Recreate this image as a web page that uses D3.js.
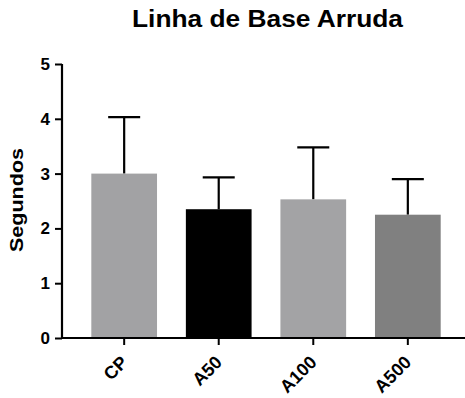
<!DOCTYPE html>
<html>
<head>
<meta charset="utf-8">
<script src="https://cdn.jsdelivr.net/npm/d3@7"></script>
<style>
  body { margin: 0; background: #fff; }
  text { font-family: "Liberation Sans", Arial, sans-serif; font-weight: bold; }
</style>
</head>
<body>
<div id="chart"></div>
<script>
var groups = ["CP", "A50", "A100", "A500"]
var means = [3.0, 2.35, 2.53, 2.25]
var upperErr = [4.03, 2.93, 3.48, 2.90]
var colors = ["#a2a2a4", "#000000", "#a3a3a5", "#808080"]
var yTicks = [0, 1, 2, 3, 4, 5]

var width = 465, height = 398
var margin = {top: 64, left: 62}
var plotBottom = 338

var svg = d3.select("#chart")
    .append("svg")
    .attr("width", width)
    .attr("height", height)

var x = d3.scaleBand()
    .domain(groups)
    .range([62, 470])
    .paddingInner(0.305)
    .paddingOuter(0.31)

var y = d3.scaleLinear()
    .domain([0, 5])
    .range([plotBottom, margin.top])

// error bars drawn first so the bar covers the lower half
svg.selectAll(".err")
    .data(groups)
    .enter().append("line")
    .attr("x1", function(d) { return x(d) + x.bandwidth() / 2 })
    .attr("x2", function(d) { return x(d) + x.bandwidth() / 2 })
    .attr("y1", function(d, i) { return y(means[i]) })
    .attr("y2", function(d, i) { return y(upperErr[i]) })
    .attr("stroke", "#000")
    .attr("stroke-width", 2.2)

svg.selectAll(".cap")
    .data(groups)
    .enter().append("line")
    .attr("x1", function(d) { return x(d) + x.bandwidth() / 2 - 16 })
    .attr("x2", function(d) { return x(d) + x.bandwidth() / 2 + 16 })
    .attr("y1", function(d, i) { return y(upperErr[i]) })
    .attr("y2", function(d, i) { return y(upperErr[i]) })
    .attr("stroke", "#000")
    .attr("stroke-width", 2.2)

svg.selectAll(".bar")
    .data(groups)
    .enter().append("rect")
    .attr("x", function(d) { return x(d) })
    .attr("width", x.bandwidth())
    .attr("y", function(d, i) { return y(means[i]) })
    .attr("height", function(d, i) { return plotBottom - y(means[i]) })
    .attr("fill", function(d, i) { return colors[i] })

// y axis
var yAxis = svg.append("g")
    .attr("transform", "translate(62,0)")
    .call(d3.axisLeft(y).tickValues(yTicks).tickFormat(d3.format("d")).tickSize(7).tickPadding(5))
yAxis.select(".domain").attr("stroke-width", 2.2).attr("d", "M0," + plotBottom + "V" + margin.top)
yAxis.selectAll(".tick line").attr("stroke-width", 2)
yAxis.selectAll(".tick text").attr("font-size", 17).attr("fill", "#000")

// x axis
var xAxis = svg.append("g")
    .attr("transform", "translate(0," + plotBottom + ")")
    .call(d3.axisBottom(x).tickSize(7))
xAxis.select(".domain").attr("stroke-width", 2.2).attr("d", "M61,0H465")
xAxis.selectAll(".tick line").attr("stroke-width", 2)
xAxis.selectAll(".tick text")
    .attr("font-size", 18)
    .attr("fill", "#000")
    .attr("x", 0)
    .attr("y", 0)
    .attr("dy", "0.35em")
    .style("text-anchor", "end")
    .attr("transform", "translate(0,21) rotate(-45)")

svg.append("text")
    .attr("transform", "rotate(-90)")
    .attr("x", -200)
    .attr("y", 23)
    .style("text-anchor", "middle")
    .attr("font-size", 18)
    .attr("textLength", 104)
    .attr("lengthAdjust", "spacingAndGlyphs")
    .text("Segundos")

svg.append("text")
    .attr("x", 132)
    .attr("y", 27)
    .attr("font-size", 24)
    .attr("textLength", 271)
    .attr("lengthAdjust", "spacingAndGlyphs")
    .text("Linha de Base Arruda")
</script>
</body>
</html>
